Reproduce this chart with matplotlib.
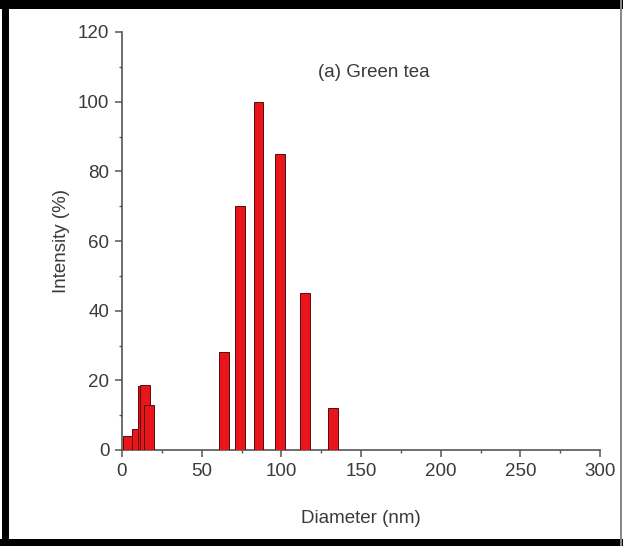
import numpy as np
import matplotlib.pyplot as plt
from matplotlib.patches import Rectangle
from matplotlib.ticker import MultipleLocator

plt.rcParams['font.family'] = ['Liberation Sans', 'DejaVu Sans']

# particle size distribution (DLS), green tea sample
diameter = [3.5, 9.5, 12.8, 14.3, 17.0, 64.0, 74.1, 85.7, 99.1, 114.7, 132.3]
intensity = [4, 6, 18.3, 18.7, 13, 28, 70, 100, 85, 45, 12]

text_color = '#3a3a3a'
bar_color = '#e8151b'

fig = plt.figure(figsize=(6.23, 5.46), dpi=100)
ax = fig.add_axes([122/623, 1 - 450/546, 478/623, 418/546])

ax.bar(diameter, intensity, width=6.0, color=bar_color,
       edgecolor='#5a0a0a', linewidth=0.7, zorder=3)

ax.set_xlim(0, 300)
ax.set_ylim(0, 120)
ax.xaxis.set_major_locator(MultipleLocator(50))
ax.xaxis.set_minor_locator(MultipleLocator(25))
ax.yaxis.set_major_locator(MultipleLocator(20))
ax.yaxis.set_minor_locator(MultipleLocator(10))

for s in ['top', 'right']:
    ax.spines[s].set_visible(False)
for s in ['left', 'bottom']:
    ax.spines[s].set_color('#555555')
    ax.spines[s].set_linewidth(1.2)

ax.tick_params(which='major', direction='out', length=5, width=1.1,
               color='#555555', labelsize=13.5, labelcolor=text_color, pad=4)
ax.tick_params(which='minor', direction='out', length=2.5, width=1.0,
               color='#555555')

ax.set_xlabel('Diameter (nm)', fontsize=13.5, color=text_color, labelpad=22)
ax.set_ylabel('Intensity (%)', fontsize=13.5, color=text_color, labelpad=6)
ax.text(123, 108.5, '(a) Green tea', fontsize=13.5, color=text_color,
        va='center', ha='left')

# black frame around the picture
W, H = 623, 546
frame = [(0, H - 9, W, 9),    # top
         (2, 0, 7, H),        # left
         (0, 0, W, 7),        # bottom
         (620, 0, 2, H)]      # right
for x0, y0, w, h in frame:
    col = '#888888' if w == 2 else 'black'
    fig.add_artist(Rectangle((x0 / W, y0 / H), w / W, h / H,
                             transform=fig.transFigure, color=col, lw=0))

fig.savefig('out.png', dpi=100)
